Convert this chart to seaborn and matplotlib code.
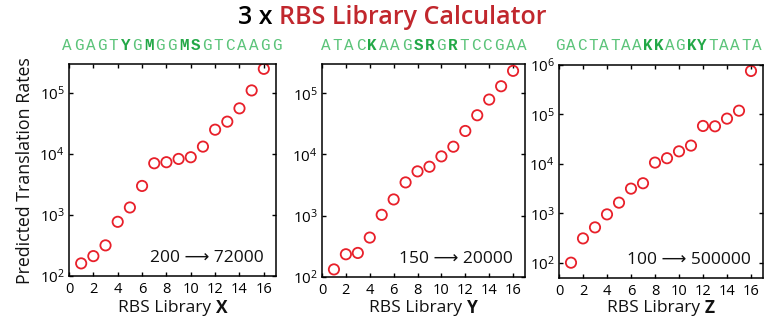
import numpy as np
import pandas as pd
import matplotlib
matplotlib.use("Agg")
import matplotlib.pyplot as plt
import seaborn as sns

# ---- data -------------------------------------------------------------
variant = list(range(1, 17))
rates_x = [161, 212, 318, 774, 1330, 3000, 7060, 7350, 8320, 8870,
           13250, 25100, 34000, 56200, 110600, 250000]
rates_y = [133, 235, 247, 440, 1035, 1845, 3500, 5300, 6310, 9310,
           13400, 24200, 43700, 78800, 130000, 232000]
rates_z = [100, 310, 518, 950, 1640, 3150, 4050, 10600, 13000, 17900,
           23400, 58400, 57500, 82200, 119000, 758000]

library_names = ["X", "Y", "Z"]
sequences = ["AGAGTYGMGGMSGTCAAGG", "ATACKAAGSRGRTCCGAA", "GACTATAAKKAGKYTAATA"]
range_labels = ["200 \u27f6 72000", "150 \u27f6 20000", "100 \u27f6 500000"]
x_ticks = list(range(0, 17, 2))

# ---- style ------------------------------------------------------------
sns.set_theme(style="ticks")
plt.rcParams["font.family"] = ["Open Sans", "DejaVu Sans"]
plt.rcParams["mathtext.default"] = "regular"

RED = "#e8202a"
TITLE_RED = "#c1272d"
GREEN = "#5cc47a"
GREEN_DARK = "#23a847"

W, H = 776, 323
fig = plt.figure(figsize=(W / 100, H / 100), dpi=100)


def box(l, r, t, b):
    return [l / W, 1 - b / H, (r - l) / W, (b - t) / H]


panels = [
    (box(69, 276, 64, 276), rates_x, (100, 3.0e5)),
    (box(322, 525, 64, 277), rates_y, (100, 3.0e5)),
    (box(559, 763, 65, 278), rates_z, (49, 1.0e6)),
]

axes = []
for i, (rect, vals, ylim) in enumerate(panels):
    ax = fig.add_axes(rect)
    df = pd.DataFrame({"variant": variant, "rate": vals})
    sns.scatterplot(data=df, x="variant", y="rate", ax=ax, marker="o",
                    s=55, facecolors="none", edgecolor=RED, linewidth=1.3,
                    legend=False)
    ax.set_yscale("log")
    ax.set_ylim(*ylim)
    ax.set_xlim(0, 17)
    ax.set_xticks(x_ticks)
    ax.minorticks_off()
    if ylim[1] >= 1e6:
        ax.set_yticks([1e2, 1e3, 1e4, 1e5, 1e6])
    else:
        ax.set_yticks([1e2, 1e3, 1e4, 1e5])
    ax.tick_params(direction="in", length=3, width=1.0, top=True, right=True,
                   labelsize=11, pad=3, colors="black")
    ax.tick_params(axis="x", labelsize=10.5, pad=4)
    for sp in ax.spines.values():
        sp.set_visible(True)
        sp.set_linewidth(1.1)
        sp.set_color("black")
    ax.set_xlabel("")
    ax.set_ylabel("")
    ax.text(0.94, 0.085, range_labels[i], transform=ax.transAxes,
            ha="right", va="center", fontsize=12.5, color="#111111")
    axes.append(ax)

fig.text(25 / W, 1 - 171 / H, "Predicted Translation Rates", rotation=90,
         ha="center", va="center", fontsize=12.8, color="#111111")

renderer = fig.canvas.get_renderer()


def draw_runs(x_px, y_px, runs, ha="center"):
    """Draw consecutive text pieces with their own styles on one line."""
    arts = [fig.text(0, 0, t, va="center", **kw) for t, kw in runs]
    widths = [a.get_window_extent(renderer).width for a in arts]
    total = sum(widths)
    x0 = x_px - total / 2 if ha == "center" else x_px
    for a, w in zip(arts, widths):
        a.set_position((x0 / W, 1 - y_px / H))
        x0 += w


# panel x-labels: "RBS Library" + bold library letter
for ax, name in zip(axes, library_names):
    bb = ax.get_position()
    cx = (bb.x0 + bb.x1) / 2 * W
    draw_runs(cx, 308, [("RBS Library ", dict(fontsize=12.5, color="#111111")),
                        (name, dict(fontsize=12.5, color="#111111",
                                    fontweight="bold"))])

# title
draw_runs(392, 17, [("3 x ", dict(fontsize=18, color="black",
                                  fontweight="semibold")),
                    ("RBS Library Calculator",
                     dict(fontsize=18, color=TITLE_RED,
                          fontweight="semibold"))])

# degenerate RBS sequences, ambiguity codes in bold
seq_span = [(62, 282), (321, 527), (555, 762)]
for seq, (x_start, x_end) in zip(sequences, seq_span):
    n = len(seq)
    pitch = (x_end - x_start - 10) / (n - 1)
    for k, ch in enumerate(seq):
        bold = ch not in "ACGT"
        fig.text((x_start + 5 + k * pitch) / W, 1 - 46 / H, ch,
                 ha="center", va="center", fontsize=11.5,
                 family=["Liberation Mono", "DejaVu Sans Mono"],
                 fontweight="bold" if bold else "normal",
                 color=GREEN_DARK if bold else GREEN)

fig.savefig("out.png", dpi=100, facecolor="white")
